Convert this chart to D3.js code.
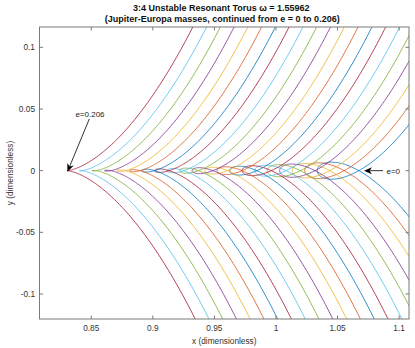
<!DOCTYPE html>
<html>
<head>
<meta charset="utf-8">
<script src="https://cdn.jsdelivr.net/npm/d3@7"></script>
<style>
  body { margin: 0; background: #fff; }
  text { font-family: "Liberation Sans", Arial, sans-serif; }
</style>
</head>
<body>
<div id="viz"></div>
<script>
// eccentricity of each member of the family (plot order, e = 0 first)
let eVals = [0, 0.0103, 0.0206, 0.0309, 0.0412, 0.0515, 0.0618, 0.0721, 0.0824, 0.0927, 0.103,
    0.1133, 0.1236, 0.1339, 0.1442, 0.1545, 0.1648, 0.1751, 0.1854, 0.1957, 0.206];
// left end of the small loop on y = 0 (x, dimensionless)
let loopStart = [1.0335, 1.0233, 1.0132, 1.0030, 0.9929, 0.9827, 0.9725, 0.9624, 0.9522, 0.9421, 0.9319,
    0.9217, 0.9116, 0.9014, 0.8913, 0.8811, 0.8709, 0.8608, 0.8506, 0.8405, 0.8303];
// length of that loop along x (0 = cusp)
let loopLen = [0.0338, 0.0321, 0.0304, 0.0287, 0.0270, 0.0254, 0.0237, 0.0220, 0.0203, 0.0186, 0.0169,
    0.0152, 0.0135, 0.0118, 0.0101, 0.0085, 0.0068, 0.0051, 0.0034, 0.0017, 0];

let xTicks = [0.85, 0.9, 0.95, 1, 1.05, 1.1];
let yTicks = [-0.1, -0.05, 0, 0.05, 0.1];

let colors = ['#0072BD', '#D95319', '#EDB120', '#7E2F8E', '#77AC30', '#4DBEEE', '#A2142F'];

let W = 415, H = 348;
let L = 39.5, R = 409, T = 27, B = 319;

let x = d3.scaleLinear().domain([0.808, 1.108]).range([L, R]);
let y = d3.scaleLinear().domain([-0.1203, 0.1165]).range([B, T]);

let svg = d3.select('#viz').append('svg')
    .attr('width', W)
    .attr('height', H);

svg.append('defs').append('clipPath')
    .attr('id', 'clip')
    .append('rect')
    .attr('x', L).attr('y', T)
    .attr('width', R - L).attr('height', B - T);

// one torus section: x = start + t^2, y = t (t^2 - len)(k + m t^2)
function section(i) {
    let pts = [];
    let c = loopLen[i];
    for (let t = -0.5; t <= 0.5001; t += 0.003) {
        pts.push([loopStart[i] + t * t, t * (t * t - c) * (2.8 + 7.5 * t * t)]);
    }
    return pts;
}

let line = d3.line()
    .x(d => x(d[0]))
    .y(d => y(d[1]));

svg.append('g')
    .attr('clip-path', 'url(#clip)')
    .selectAll('path')
    .data(eVals.map((e, i) => i))
    .enter()
    .append('path')
    .attr('d', i => line(section(i)))
    .attr('fill', 'none')
    .attr('stroke', i => colors[i % colors.length])
    .attr('stroke-width', 0.8);

// box + ticks (matlab style, ticks inside on all sides)
let axCol = '#7a7a7a';
svg.append('rect')
    .attr('x', L).attr('y', T)
    .attr('width', R - L).attr('height', B - T)
    .attr('fill', 'none')
    .attr('stroke', axCol)
    .attr('stroke-width', 1);

let tl = 3.5;
let tk = svg.append('g').attr('stroke', axCol).attr('stroke-width', 1);
xTicks.forEach(v => {
    tk.append('line').attr('x1', x(v)).attr('x2', x(v)).attr('y1', B).attr('y2', B - tl);
    tk.append('line').attr('x1', x(v)).attr('x2', x(v)).attr('y1', T).attr('y2', T + tl);
});
yTicks.forEach(v => {
    tk.append('line').attr('y1', y(v)).attr('y2', y(v)).attr('x1', L).attr('x2', L + tl);
    tk.append('line').attr('y1', y(v)).attr('y2', y(v)).attr('x1', R).attr('x2', R - tl);
});

svg.append('g')
    .selectAll('text')
    .data(xTicks)
    .enter()
    .append('text')
    .attr('x', d => x(d))
    .attr('y', B + 12)
    .attr('text-anchor', 'middle')
    .attr('font-size', '8.3px')
    .attr('fill', '#333')
    .text(d => d);

svg.append('g')
    .selectAll('text')
    .data(yTicks)
    .enter()
    .append('text')
    .attr('x', L - 4.5)
    .attr('y', d => y(d) + 3)
    .attr('text-anchor', 'end')
    .attr('font-size', '8.3px')
    .attr('fill', '#333')
    .text(d => d);

svg.append('text')
    .attr('x', (L + R) / 2)
    .attr('y', 344)
    .attr('text-anchor', 'middle')
    .attr('font-size', '8.3px')
    .attr('fill', '#333')
    .text('x (dimensionless)');

svg.append('text')
    .attr('transform', 'translate(13,' + ((T + B) / 2) + ') rotate(-90)')
    .attr('text-anchor', 'middle')
    .attr('font-size', '8.3px')
    .attr('fill', '#333')
    .text('y (dimensionless)');

// title
svg.append('text')
    .attr('x', (L + R) / 2 - 3)
    .attr('y', 10.5)
    .attr('text-anchor', 'middle')
    .attr('font-size', '9px')
    .attr('font-weight', 'bold')
    .attr('fill', '#111')
    .text('3:4 Unstable Resonant Torus ω = 1.55962');
svg.append('text')
    .attr('x', (L + R) / 2 - 2)
    .attr('y', 22)
    .attr('text-anchor', 'middle')
    .attr('font-size', '9px')
    .attr('font-weight', 'bold')
    .attr('fill', '#111')
    .text('(Jupiter-Europa masses, continued from e = 0 to 0.206)');

// annotation arrows
function arrow(x0, y0, x1, y1) {
    let a = Math.atan2(y1 - y0, x1 - x0);
    let hl = 8, hw = 3.5;
    let bx = x1 - hl * Math.cos(a), by = y1 - hl * Math.sin(a);
    let nx = -Math.sin(a), ny = Math.cos(a);
    let mx = x1 - hl * 0.7 * Math.cos(a), my = y1 - hl * 0.7 * Math.sin(a);
    svg.append('line')
        .attr('x1', x0).attr('y1', y0)
        .attr('x2', mx).attr('y2', my)
        .attr('stroke', '#000').attr('stroke-width', 0.8);
    svg.append('polygon')
        .attr('points', [[x1, y1], [bx + nx * hw, by + ny * hw], [mx, my], [bx - nx * hw, by - ny * hw]].join(' '))
        .attr('fill', '#000');
}

let eHi = eVals[eVals.length - 1];
arrow(89.3, 119, x(loopStart[loopStart.length - 1]) + 0.5, y(0) + 1);
svg.append('text')
    .attr('x', 90)
    .attr('y', 117)
    .attr('text-anchor', 'middle')
    .attr('font-size', '8px')
    .attr('fill', '#222')
    .text('e=' + eHi);

arrow(383, y(0), 364, y(0));
svg.append('text')
    .attr('x', 386.5)
    .attr('y', y(0) + 3)
    .attr('font-size', '8px')
    .attr('fill', '#222')
    .text('e=' + eVals[0]);
</script>
</body>
</html>
